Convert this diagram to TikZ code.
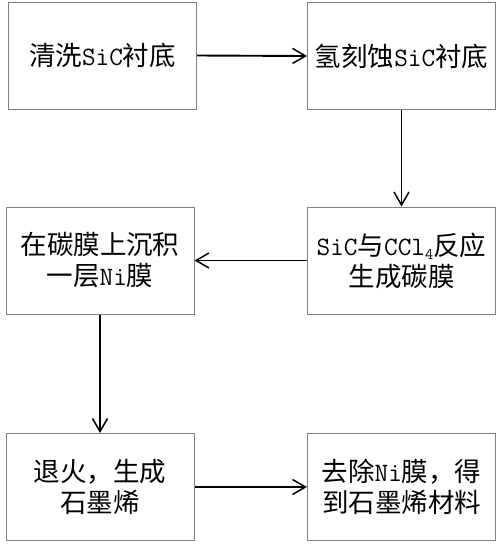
\documentclass[tikz,border=0pt]{standalone}
\usepackage{fontspec}
\setmainfont{Noto Sans CJK SC}
\newcommand\lat{\ttfamily}
\usetikzlibrary{arrows.meta}
\begin{document}
\begin{tikzpicture}[x=1pt,y=-1pt,
  stepbox/.style={draw=black!50,line width=1pt,rectangle,inner sep=0pt,
    minimum width=188pt,minimum height=107pt,align=center,
    font=\fontsize{26.5}{31}\selectfont},
  flow/.style={draw=black,line width=1.9pt,-{Straight Barb[length=13pt,width=15pt,line width=1.5pt]}}]
\useasboundingbox (0,0) rectangle (500,544);
\node[stepbox] (b1) at (102.5,55.5) {清洗{\lat SiC}衬底};
\node[stepbox] (b2) at (401.5,56) {氢刻蚀{\lat SiC}衬底};
\node[stepbox] (b3) at (401.5,260.5) {{\lat SiC}与{\lat CCl}\raisebox{-4pt}{\fontsize{16}{16}\selectfont\lat 4}反应\\生成碳膜};
\node[stepbox] (b4) at (100,260.5) {在碳膜上沉积\\一层{\lat Ni}膜};
\node[stepbox] (b5) at (100,487) {退火，生成\\石墨烯};
\node[stepbox] (b6) at (401.5,487) {去除{\lat Ni}膜，得\\到石墨烯材料};
\draw[flow] (b1.east) -- (b2.west);
\draw[flow] (b2.south) -- (b3.north);
\draw[flow] (b3.west) -- (b4.east);
\draw[flow] (b4.south) -- (b5.north);
\draw[flow] (b5.east) -- (b6.west);
\end{tikzpicture}
\end{document}
